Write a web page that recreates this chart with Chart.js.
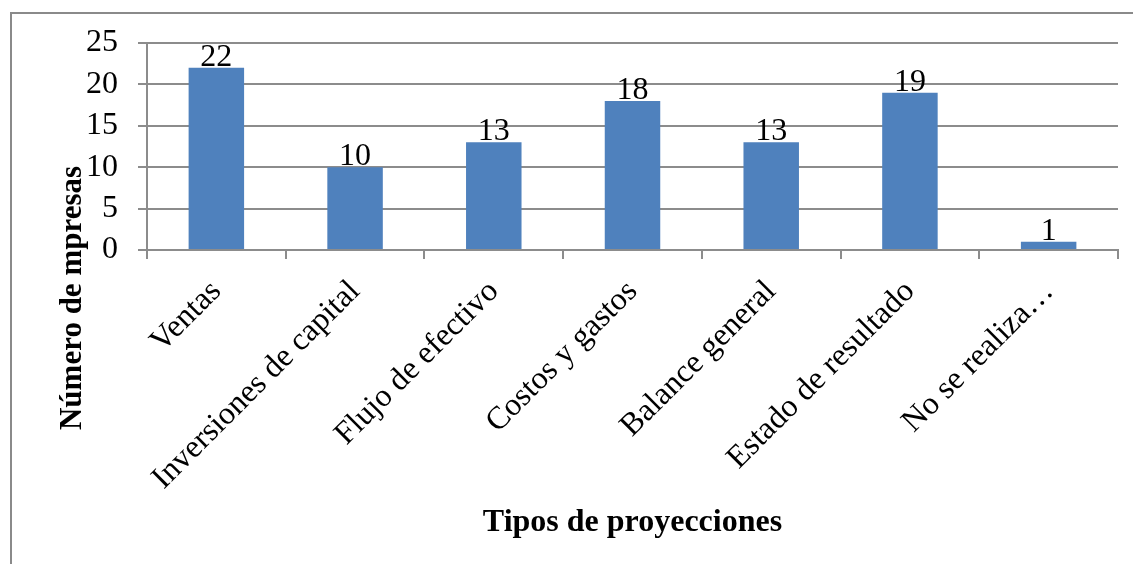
<!DOCTYPE html>
<html>
<head>
<meta charset="utf-8">
<script src="https://cdn.jsdelivr.net/npm/chart.js@4.4.0/dist/chart.umd.min.js"></script>
<style>
    html, body { margin: 0; padding: 0; background: #ffffff; }
</style>
</head>
<body>
<canvas id="chart" width="1133" height="564"></canvas>
<script>
// Chart data
const categories = [
    'Ventas',
    'Inversiones de capital',
    'Flujo de efectivo',
    'Costos y gastos',
    'Balance general',
    'Estado de resultado',
    'No se realiza\u2026'
];
const empresas = [22, 10, 13, 18, 13, 19, 1];
const yTicks = [0, 5, 10, 15, 20, 25];
const xTitle = 'Tipos de proyecciones';
const yTitle = 'Número de mpresas';

const FONT = '"Liberation Serif", "Times New Roman", serif';
const AXIS_GREY = '#8c8c8c';

// Value labels above each bar
const barLabels = {
    id: 'barLabels',
    afterDatasetsDraw(chart) {
        const ctx = chart.ctx;
        const meta = chart.getDatasetMeta(0);
        ctx.save();
        ctx.font = '32px ' + FONT;
        ctx.fillStyle = '#000000';
        ctx.textAlign = 'center';
        ctx.textBaseline = 'alphabetic';
        meta.data.forEach((bar, i) => {
            ctx.fillText(String(empresas[i]), bar.x, bar.y - 2);
        });
        ctx.restore();
    }
};

// Outer frame + y title (centred on the whole chart, not on the axis)
const frame = {
    id: 'frame',
    beforeDraw(chart) {
        const ctx = chart.ctx;
        ctx.save();
        ctx.strokeStyle = '#8a8a8a';
        ctx.lineWidth = 2;
        ctx.beginPath();
        ctx.moveTo(11, chart.height);
        ctx.lineTo(11, 13);
        ctx.lineTo(chart.width, 13);
        ctx.stroke();
        ctx.restore();
    },
    afterDraw(chart) {
        const ctx = chart.ctx;
        ctx.save();
        ctx.translate(73, 298);
        ctx.rotate(-Math.PI / 2);
        ctx.font = 'bold 31px ' + FONT;
        ctx.fillStyle = '#000000';
        ctx.textAlign = 'center';
        ctx.textBaseline = 'middle';
        ctx.fillText(yTitle, 0, 0);
        ctx.restore();
    }
};

new Chart(document.getElementById('chart'), {
    type: 'bar',
    data: {
        labels: categories,
        datasets: [{
            data: empresas,
            backgroundColor: '#4f81bd',
            borderWidth: 0,
            barPercentage: 0.4,
            categoryPercentage: 1.0
        }]
    },
    options: {
        responsive: false,
        animation: false,
        layout: { padding: { top: 43, right: 15, bottom: 0, left: 0 } },
        plugins: {
            legend: { display: false },
            tooltip: { enabled: false }
        },
        scales: {
            x: {
                offset: true,
                afterFit(scale) { scale.height = 314; },
                grid: {
                    offset: true,
                    drawOnChartArea: false,
                    color: AXIS_GREY,
                    lineWidth: 2,
                    tickLength: 9
                },
                border: { color: AXIS_GREY, width: 2 },
                ticks: {
                    color: '#000000',
                    font: { family: FONT, size: 32 },
                    maxRotation: 45,
                    minRotation: 45,
                    padding: 14,
                    autoSkip: false
                },
                title: {
                    display: true,
                    text: xTitle,
                    color: '#000000',
                    font: { family: FONT, size: 32, weight: 'bold' },
                    padding: { top: 0, bottom: 22 }
                }
            },
            y: {
                min: yTicks[0],
                max: yTicks[yTicks.length - 1],
                afterFit(scale) { scale.width = 147; },
                afterBuildTicks(scale) {
                    scale.ticks = yTicks.map(v => ({ value: v }));
                },
                grid: {
                    color: AXIS_GREY,
                    lineWidth: 2,
                    tickLength: 9
                },
                border: { color: AXIS_GREY, width: 2 },
                ticks: {
                    color: '#000000',
                    font: { family: FONT, size: 32 },
                    padding: 20
                }
            }
        }
    },
    plugins: [barLabels, frame]
});
</script>
</body>
</html>
